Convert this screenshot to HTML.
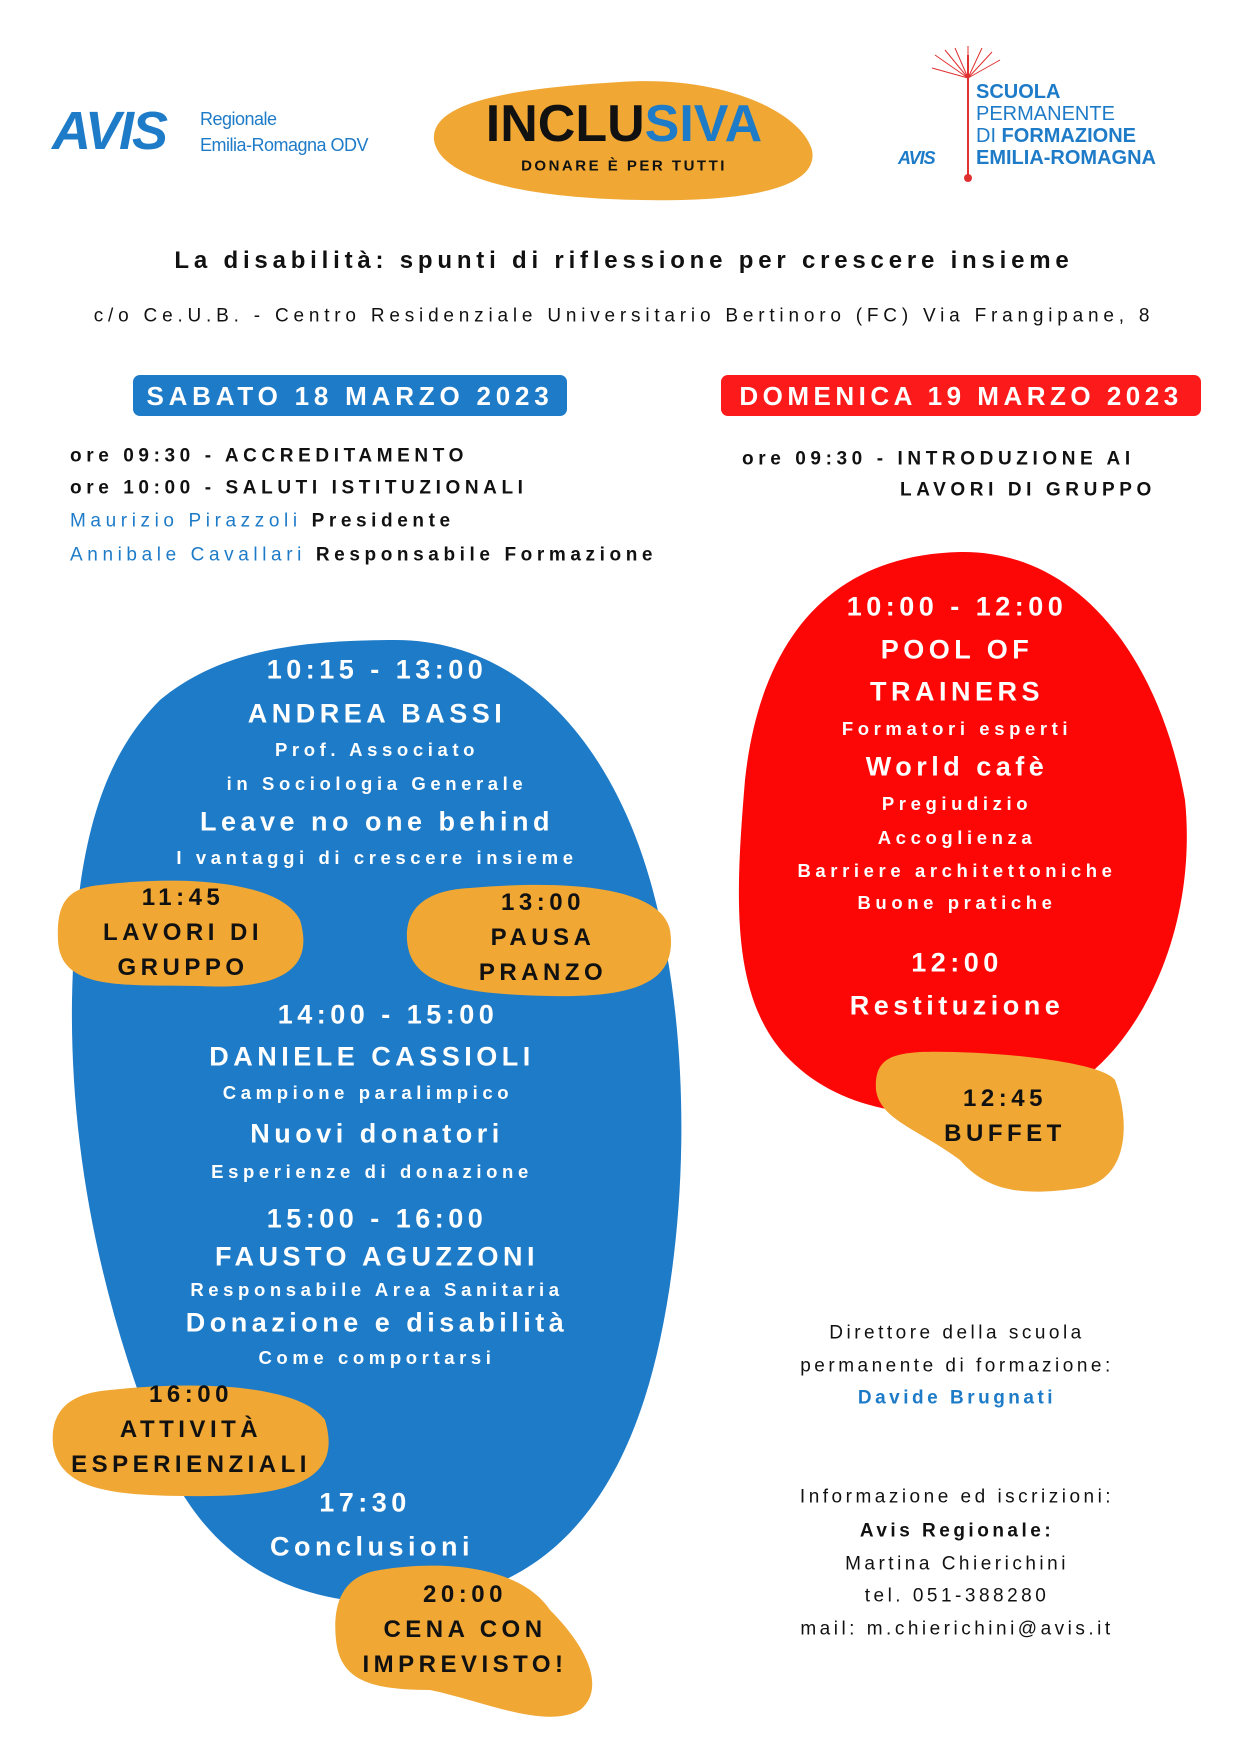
<!DOCTYPE html>
<html><head><meta charset="utf-8"><style>
body{margin:0;background:#fff;}
#p{position:relative;width:1241px;height:1755px;overflow:hidden;font-family:"Liberation Sans",sans-serif;}
.t{position:absolute;white-space:nowrap;line-height:1;transform:translate(-50%,-50%);text-align:center;font-weight:bold;letter-spacing:4.5px;}
.l{position:absolute;white-space:nowrap;line-height:1;transform:translateY(-50%);font-weight:bold;letter-spacing:4.6px;font-size:19px;color:#111;}
.w{color:#fff}.k{color:#111}.b{color:#1e7bc8}
.big{font-size:27px}.sm{font-size:18.5px;letter-spacing:4.6px}
svg{position:absolute;left:0;top:0}
</style></head><body><div id="p">
<svg width="1241" height="1755">
<path d="M395 640 C520 640 610 740 650 880 C690 1020 690 1200 660 1340 C630 1480 560 1600 400 1603 C250 1606 190 1520 160 1450 C100 1300 70 1150 72 1000 C75 850 100 760 160 700 C220 650 300 640 395 640Z" fill="#1e7bc8"/>
<path d="M960 552 C1080 550 1160 660 1185 800 C1200 950 1120 1080 1040 1100 C950 1125 850 1120 790 1060 C730 1000 735 900 745 780 C760 640 830 555 960 552Z" fill="#fd0606"/>
<path d="M620 82 C720 75 800 110 812 150 C820 190 740 202 640 200 C530 198 440 180 434 140 C430 100 520 88 620 82Z" fill="#f0a733"/>
<path d="M100 885 C180 875 280 880 300 920 C315 970 280 990 200 986 C120 985 60 990 58 940 C56 900 70 888 100 885Z" fill="#f0a733"/>
<path d="M470 888 C560 880 660 885 670 930 C678 980 640 998 550 996 C460 994 410 985 407 940 C405 905 430 890 470 888Z" fill="#f0a733"/>
<path d="M110 1390 C200 1380 300 1385 325 1420 C340 1470 310 1495 210 1496 C110 1497 60 1490 53 1445 C50 1410 70 1393 110 1390Z" fill="#f0a733"/>
<path d="M380 1570 C440 1560 520 1565 550 1610 C590 1650 605 1690 580 1710 C545 1730 480 1700 430 1690 C370 1690 340 1680 336 1640 C332 1600 345 1575 380 1570Z" fill="#f0a733"/>
<path d="M920 1052 C980 1050 1100 1060 1115 1080 C1130 1120 1130 1180 1080 1188 C1030 1195 990 1195 960 1160 C920 1130 880 1120 876 1090 C874 1060 890 1054 920 1052Z" fill="#f0a733"/>
<rect x="133" y="375" width="434" height="41" rx="7" fill="#1e7bc8"/>
<rect x="721" y="375" width="480" height="41" rx="7" fill="#fd1a1a"/>
<path d="M968 55 L968 178" stroke="#e03030" stroke-width="2"/>
<circle cx="968" cy="178" r="4" fill="#e03030"/>
<g stroke="#e03030" stroke-width="1"><path d="M968 78 L935 55 M968 78 L945 50 M968 78 L955 48 M968 78 L968 46 M968 78 L982 48 M968 78 L992 52 M968 78 L1000 60 M968 78 L932 68"/></g>
</svg>
<div class="l" style="left:52px;top:131px;font-size:54px;font-style:italic;font-weight:900;color:#1e7bc8;letter-spacing:-2px">AVIS</div>
<div class="l" style="left:200px;top:119px;font-size:18px;color:#1e7bc8;letter-spacing:-0.5px;font-weight:normal">Regionale</div>
<div class="l" style="left:200px;top:145px;font-size:18px;color:#1e7bc8;letter-spacing:-0.5px;font-weight:normal">Emilia-Romagna ODV</div>
<div class="t" style="left:624px;top:124px;font-size:52px;letter-spacing:0"><span class="k">INCLU</span><span class="b">SIVA</span></div>
<div class="t k" style="left:624px;top:166px;font-size:15px;letter-spacing:2.5px">DONARE È PER TUTTI</div>
<div class="l" style="left:976px;top:92px;font-size:20px;color:#1e7bc8;letter-spacing:0">SCUOLA</div>
<div class="l" style="left:976px;top:114px;font-size:20px;color:#1e7bc8;letter-spacing:0;font-weight:normal">PERMANENTE</div>
<div class="l" style="left:976px;top:136px;font-size:20px;color:#1e7bc8;letter-spacing:0"><span style="font-weight:normal">DI</span> FORMAZIONE</div>
<div class="l" style="left:976px;top:158px;font-size:20px;color:#1e7bc8;letter-spacing:0">EMILIA-ROMAGNA</div>
<div class="l" style="left:898px;top:158px;font-size:18px;font-style:italic;color:#1e7bc8;letter-spacing:-1px">AVIS</div>
<div class="t k" style="left:624px;top:261px;font-size:24px;letter-spacing:4.8px">La disabilità: spunti di riflessione per crescere insieme</div>
<div class="t k" style="left:624px;top:316px;font-size:19px;font-weight:normal;letter-spacing:4.8px">c/o Ce.U.B. - Centro Residenziale Universitario Bertinoro (FC) Via Frangipane, 8</div>
<div class="t w" style="left:350px;top:396px;font-size:26px;letter-spacing:4.8px">SABATO 18 MARZO 2023</div>
<div class="t w" style="left:961px;top:396px;font-size:26px;letter-spacing:4.5px">DOMENICA 19 MARZO 2023</div>
<div class="l" style="left:70px;top:456px">ore 09:30 - ACCREDITAMENTO</div>
<div class="l" style="left:70px;top:488px">ore 10:00 - SALUTI ISTITUZIONALI</div>
<div class="l" style="left:70px;top:521px"><span class="b" style="font-weight:normal">Maurizio Pirazzoli</span> Presidente</div>
<div class="l" style="left:70px;top:555px"><span class="b" style="font-weight:normal">Annibale Cavallari</span> Responsabile Formazione</div>
<div class="l" style="left:742px;top:459px">ore 09:30 - INTRODUZIONE AI</div>
<div class="l" style="left:900px;top:490px">LAVORI DI GRUPPO</div>
<div class="t w big" style="left:377px;top:670px">10:15 - 13:00</div>
<div class="t w big" style="left:377px;top:714px">ANDREA BASSI</div>
<div class="t w sm" style="left:377px;top:750px">Prof. Associato</div>
<div class="t w sm" style="left:377px;top:784px">in Sociologia Generale</div>
<div class="t w big" style="left:377px;top:822px">Leave no one behind</div>
<div class="t w sm" style="left:377px;top:858px">I vantaggi di crescere insieme</div>
<div class="t k" style="left:183px;top:898px;font-size:24px">11:45</div>
<div class="t k" style="left:183px;top:933px;font-size:24px">LAVORI DI</div>
<div class="t k" style="left:183px;top:968px;font-size:24px">GRUPPO</div>
<div class="t k" style="left:543px;top:903px;font-size:24px">13:00</div>
<div class="t k" style="left:543px;top:938px;font-size:24px">PAUSA</div>
<div class="t k" style="left:543px;top:973px;font-size:24px">PRANZO</div>
<div class="t w big" style="left:388px;top:1015px">14:00 - 15:00</div>
<div class="t w big" style="left:372px;top:1057px">DANIELE CASSIOLI</div>
<div class="t w sm" style="left:368px;top:1093px">Campione paralimpico</div>
<div class="t w big" style="left:377px;top:1134px">Nuovi donatori</div>
<div class="t w sm" style="left:372px;top:1172px">Esperienze di donazione</div>
<div class="t w big" style="left:377px;top:1219px">15:00 - 16:00</div>
<div class="t w big" style="left:377px;top:1257px">FAUSTO AGUZZONI</div>
<div class="t w sm" style="left:377px;top:1290px">Responsabile Area Sanitaria</div>
<div class="t w big" style="left:377px;top:1323px">Donazione e disabilità</div>
<div class="t w sm" style="left:377px;top:1358px">Come comportarsi</div>
<div class="t k" style="left:191px;top:1395px;font-size:24px">16:00</div>
<div class="t k" style="left:191px;top:1430px;font-size:24px">ATTIVITÀ</div>
<div class="t k" style="left:191px;top:1465px;font-size:24px">ESPERIENZIALI</div>
<div class="t w big" style="left:365px;top:1503px">17:30</div>
<div class="t w big" style="left:372px;top:1547px">Conclusioni</div>
<div class="t k" style="left:465px;top:1595px;font-size:24px">20:00</div>
<div class="t k" style="left:465px;top:1630px;font-size:24px">CENA CON</div>
<div class="t k" style="left:465px;top:1665px;font-size:24px">IMPREVISTO!</div>
<div class="t w big" style="left:957px;top:607px">10:00 - 12:00</div>
<div class="t w big" style="left:957px;top:650px">POOL OF</div>
<div class="t w big" style="left:957px;top:692px">TRAINERS</div>
<div class="t w sm" style="left:957px;top:729px">Formatori esperti</div>
<div class="t w big" style="left:957px;top:767px">World cafè</div>
<div class="t w sm" style="left:957px;top:804px">Pregiudizio</div>
<div class="t w sm" style="left:957px;top:838px">Accoglienza</div>
<div class="t w sm" style="left:957px;top:871px">Barriere architettoniche</div>
<div class="t w sm" style="left:957px;top:903px">Buone pratiche</div>
<div class="t w big" style="left:957px;top:963px">12:00</div>
<div class="t w big" style="left:957px;top:1006px">Restituzione</div>
<div class="t k" style="left:1005px;top:1099px;font-size:24px">12:45</div>
<div class="t k" style="left:1005px;top:1134px;font-size:24px">BUFFET</div>
<div class="t k" style="left:957px;top:1333px;font-size:19px;font-weight:normal;letter-spacing:3.5px">Direttore della scuola</div>
<div class="t k" style="left:957px;top:1366px;font-size:19px;font-weight:normal;letter-spacing:3.5px">permanente di formazione:</div>
<div class="t b" style="left:957px;top:1398px;font-size:19px;letter-spacing:3.5px">Davide Brugnati</div>
<div class="t k" style="left:957px;top:1497px;font-size:19px;font-weight:normal;letter-spacing:3.5px">Informazione ed iscrizioni:</div>
<div class="t k" style="left:957px;top:1531px;font-size:19px;letter-spacing:3.5px">Avis Regionale:</div>
<div class="t k" style="left:957px;top:1564px;font-size:19px;font-weight:normal;letter-spacing:3.5px">Martina Chierichini</div>
<div class="t k" style="left:957px;top:1596px;font-size:19px;font-weight:normal;letter-spacing:3.5px">tel. 051-388280</div>
<div class="t k" style="left:957px;top:1629px;font-size:19px;font-weight:normal;letter-spacing:3.5px">mail: m.chierichini@avis.it</div>
</div></body></html>
